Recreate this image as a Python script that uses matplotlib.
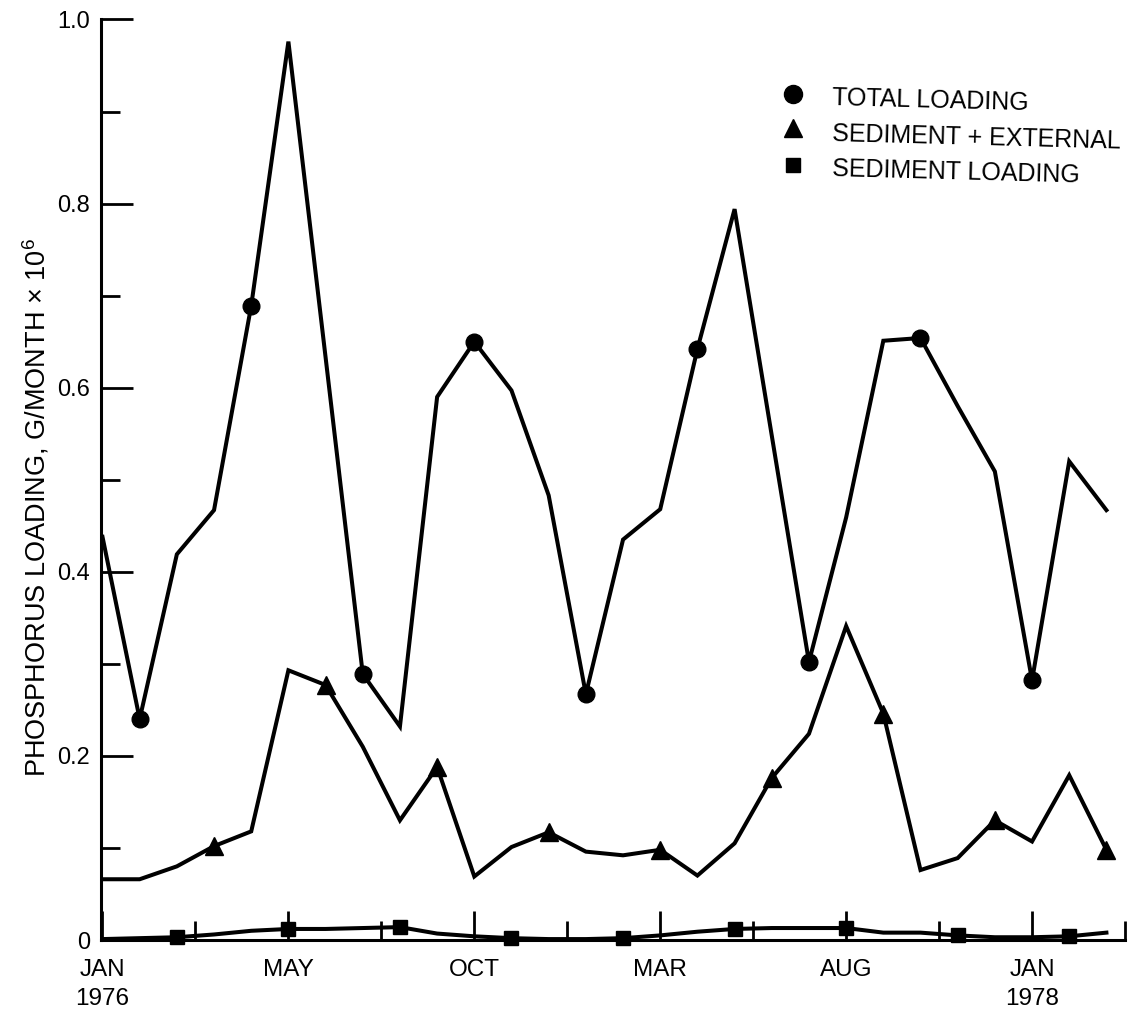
import matplotlib.pyplot as plt
import numpy as np

plt.rcParams['font.family'] = ['Liberation Sans', 'DejaVu Sans']
plt.rcParams['mathtext.default'] = 'regular'

# monthly phosphorus loads, Jan 1976 .. Apr 1978  (G/MONTH x 10^6)
months = np.arange(28)
total = [0.438, 0.240, 0.419, 0.467, 0.689, 0.976, 0.633, 0.289, 0.232, 0.590,
         0.650, 0.597, 0.483, 0.267, 0.435, 0.468, 0.642, 0.794, 0.548, 0.302,
         0.459, 0.651, 0.654, 0.580, 0.509, 0.282, 0.520, 0.467]
sed_ext = [0.066, 0.066, 0.080, 0.102, 0.118, 0.293, 0.277, 0.210, 0.130, 0.188,
           0.069, 0.101, 0.117, 0.096, 0.092, 0.098, 0.070, 0.105, 0.176, 0.224,
           0.341, 0.246, 0.076, 0.089, 0.130, 0.107, 0.179, 0.098]
sediment = [0.001, 0.002, 0.003, 0.006, 0.010, 0.012, 0.012, 0.013, 0.014, 0.007,
            0.004, 0.002, 0.001, 0.001, 0.002, 0.005, 0.009, 0.012, 0.013, 0.013,
            0.013, 0.008, 0.008, 0.005, 0.003, 0.003, 0.004, 0.008]

tick_pos = [0, 5, 10, 15, 20, 25]
tick_names = ["JAN\n1976", "MAY", "OCT", "MAR", "AUG", "JAN\n1978"]
half_ticks = [2.5, 7.5, 12.5, 17.5, 22.5, 27.5]
y_major = [0, 0.2, 0.4, 0.6, 0.8, 1.0]
y_names = ["0", "0.2", "0.4", "0.6", "0.8", "1.0"]
y_minor = [0.1, 0.3, 0.5, 0.7, 0.9]

series_names = ["TOTAL LOADING", "SEDIMENT + EXTERNAL", "SEDIMENT LOADING"]

fig = plt.figure(figsize=(11.29, 10.13), dpi=100)
ax = fig.add_axes([101 / 1129, 1 - 940 / 1013, 1024 / 1129, 920.5 / 1013])

# (werte, marker, groesse, jeder dritte monat ab ...)
styles = [
    (total, 'o', 12, 1),
    (sed_ext, '^', 12.5, 3),
    (sediment, 's', 9.5, 2),
]
for vals, mk, ms, start in styles:
    ax.plot(months, vals, color='black', lw=2.9, marker=mk, ms=ms,
            markevery=slice(start, None, 3), clip_on=False,
            solid_joinstyle='miter', zorder=3)

ax.set_xlim(-0.04, 27.5)
ax.set_ylim(0, 1.0)

ax.set_xticks(tick_pos)
ax.set_xticklabels(tick_names, linespacing=1.4)
ax.set_xticks(half_ticks, minor=True)
ax.set_yticks(y_major)
ax.set_yticklabels(y_names)
ax.set_yticks(y_minor, minor=True)

ax.tick_params(axis='x', which='major', direction='in', length=21, width=2,
               labelsize=17.5, pad=14)
ax.tick_params(axis='x', which='minor', direction='in', length=14, width=2)
ax.tick_params(axis='y', which='major', direction='in', length=23, width=2,
               labelsize=17, pad=8)
ax.tick_params(axis='y', which='minor', direction='in', length=13.5, width=2)

for s in ['top', 'right']:
    ax.spines[s].set_visible(False)
for s in ['left', 'bottom']:
    ax.spines[s].set_linewidth(2.2)

ax.set_ylabel("PHOSPHORUS LOADING, G/MONTH \u00d7 10$^{6}$", fontsize=19.5)
ax.yaxis.set_label_coords(-0.048, 0.47)

# legende von hand, leicht schraeg wie im druck
leg_marker_y = [0.919, 0.882, 0.842]
leg_text_y = [0.915, 0.876, 0.838]
for (vals, mk, ms, start), name, my, ty in zip(styles, series_names, leg_marker_y, leg_text_y):
    ax.plot([0.676], [my], marker=mk, ms=ms + 1, color='black', ls='none',
            transform=ax.transAxes, clip_on=False)
    ax.text(0.714, ty, name, transform=ax.transAxes, fontsize=18, va='center',
            ha='left', rotation=-1.5, rotation_mode='anchor')

fig.savefig('out.png', dpi=100)
plt.close()
